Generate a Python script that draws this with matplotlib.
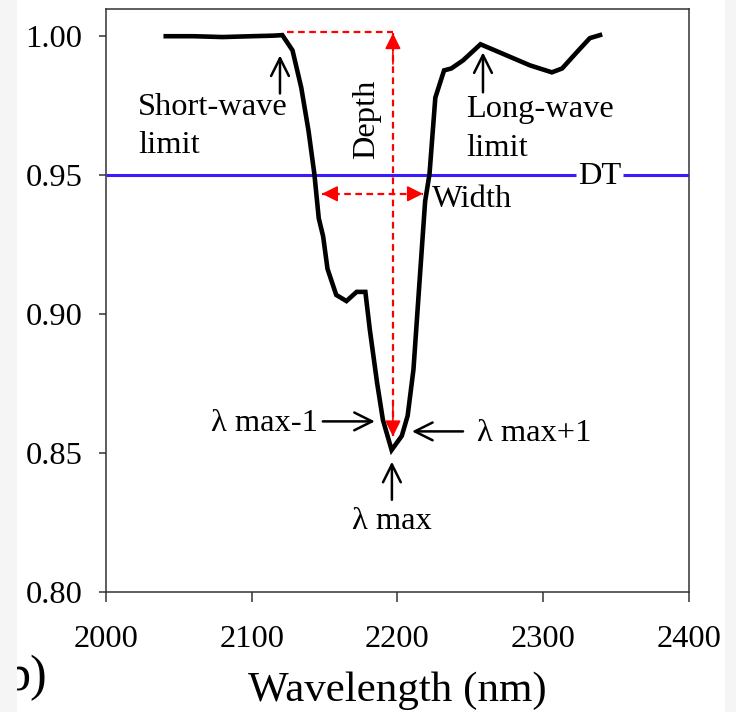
import matplotlib
matplotlib.use("Agg")
import matplotlib.pyplot as plt
from matplotlib.patches import Rectangle

plt.rcParams['font.family'] = ['Liberation Serif', 'DejaVu Serif']

# spectrum
wavelength = [2041, 2060, 2080, 2100, 2115, 2121, 2128, 2134, 2139, 2143,
              2146, 2149, 2152, 2158, 2165, 2172, 2178, 2181, 2186, 2190,
              2196, 2203, 2207, 2211, 2215, 2219, 2222, 2226, 2232, 2237,
              2245, 2257, 2270, 2291, 2306, 2313, 2323, 2332, 2339]
reflectance = [1.000, 1.000, 0.9997, 1.000, 1.0002, 1.0004, 0.9949, 0.9815, 0.9659, 0.9504,
               0.9345, 0.928, 0.9163, 0.9069, 0.9047, 0.9080, 0.9080, 0.8946, 0.8754, 0.8620,
               0.8511, 0.8562, 0.8634, 0.8801, 0.9105, 0.9406, 0.9504, 0.9779, 0.9877, 0.9884,
               0.9913, 0.9971, 0.9942, 0.9895, 0.9870, 0.9884, 0.9942, 0.9993, 1.0004]

dt_level = 0.95
xticks = [2000, 2100, 2200, 2300, 2400]
yticks = [0.80, 0.85, 0.90, 0.95, 1.00]

fig = plt.figure(figsize=(7.36, 7.12), dpi=100)
ax = fig.add_axes([0.144, 0.1685, 0.792, 0.8185])

ax.plot(wavelength, reflectance, color='black', lw=3.3, solid_joinstyle='miter', zorder=4)

# DT line with a gap for its label
ax.hlines(dt_level, 2000, 2322.5, color='#3a1aff', lw=2.2, zorder=3)
ax.hlines(dt_level, 2354.7, 2400, color='#3a1aff', lw=2.2, zorder=3)
ax.text(2338.5, 0.9469, 'DT', fontsize=23.4, ha='center', va='baseline')

# depth and width markers: dashed shafts, solid heads
red = '#ff0000'
dash = (0, (3, 2))
red_head = dict(arrowstyle='-|>', color=red, lw=1.2, mutation_scale=24,
                shrinkA=0, shrinkB=0)
ax.plot([2124.2, 2196.9], [1.0014, 1.0014], color=red, ls=dash, lw=1.6, zorder=5)
ax.plot([2196.9, 2196.9], [1.0011, 0.856], color=red, ls=dash, lw=1.6, zorder=5)
ax.annotate('', xy=(2196.9, 1.0011), xytext=(2196.9, 0.990), arrowprops=red_head, zorder=5)
ax.annotate('', xy=(2196.9, 0.856), xytext=(2196.9, 0.867), arrowprops=red_head, zorder=5)
ax.plot([2148.2, 2217.5], [0.9433, 0.9433], color=red, ls=dash, lw=1.6, zorder=5)
ax.annotate('', xy=(2148.2, 0.9433), xytext=(2158, 0.9433), arrowprops=red_head, zorder=5)
ax.annotate('', xy=(2217.5, 0.9433), xytext=(2208, 0.9433), arrowprops=red_head, zorder=5)

fs = 23.4
ax.text(2179, 0.970, 'Depth', fontsize=fs, rotation=90, ha='center', va='center')
ax.text(2223.7, 0.9386, 'Width', fontsize=fs, ha='left', va='baseline')

# limit labels
black_arrow = dict(arrowstyle='->', color='black', lw=1.8, mutation_scale=32,
                   shrinkA=0, shrinkB=0)
ax.text(2022, 0.9715, 'Short-wave', fontsize=fs, ha='left', va='baseline')
ax.text(2022, 0.9581, 'limit', fontsize=fs, ha='left', va='baseline')
ax.annotate('', xy=(2119.4, 0.9931), xytext=(2119.4, 0.9794), arrowprops=black_arrow)

ax.text(2247, 0.9708, 'Long-wave', fontsize=fs, ha='left', va='baseline')
ax.text(2247, 0.9570, 'limit', fontsize=fs, ha='left', va='baseline')
ax.annotate('', xy=(2258.7, 0.9942), xytext=(2258.7, 0.9798), arrowprops=black_arrow)

# lambda max labels
ax.text(2145.4, 0.8578, 'λ max-1', fontsize=fs, ha='right', va='baseline')
ax.annotate('', xy=(2184.5, 0.8614), xytext=(2148.8, 0.8614), arrowprops=black_arrow)

ax.text(2254.6, 0.8542, 'λ max+1', fontsize=fs, ha='left', va='baseline')
ax.annotate('', xy=(2210, 0.8578), xytext=(2245, 0.8578), arrowprops=black_arrow)

ax.text(2196.2, 0.8228, 'λ max', fontsize=fs, ha='center', va='baseline')
ax.annotate('', xy=(2196.2, 0.8469), xytext=(2196.2, 0.8332), arrowprops=black_arrow)

ax.set_xlim(2000, 2400)
ax.set_ylim(0.80, 1.0097)
ax.set_xticks(xticks)
ax.set_yticks(yticks)
ax.set_yticklabels(['%.2f' % v for v in yticks])
ax.tick_params(axis='both', which='both', direction='out', labelsize=23.4,
               width=1.1, color='#333333', top=False, right=False)
ax.tick_params(axis='y', length=5, pad=12)
ax.tick_params(axis='x', length=7, pad=17)
for s in ax.spines.values():
    s.set_linewidth(1.1)
    s.set_color('#333333')

ax.set_xlabel('Wavelength (nm)', fontsize=31, labelpad=12)

fig.text(0.065, 0.031, 'b)', fontsize=36, ha='right', va='baseline')
fig.patches.append(Rectangle((0, 0), 17 / 736, 1, transform=fig.transFigure,
                             facecolor='#f5f5f5', edgecolor='none', zorder=10))
fig.patches.append(Rectangle((725 / 736, 0), 11 / 736, 1, transform=fig.transFigure,
                             facecolor='#f5f5f5', edgecolor='none', zorder=10))

fig.savefig('out.png', dpi=100)
